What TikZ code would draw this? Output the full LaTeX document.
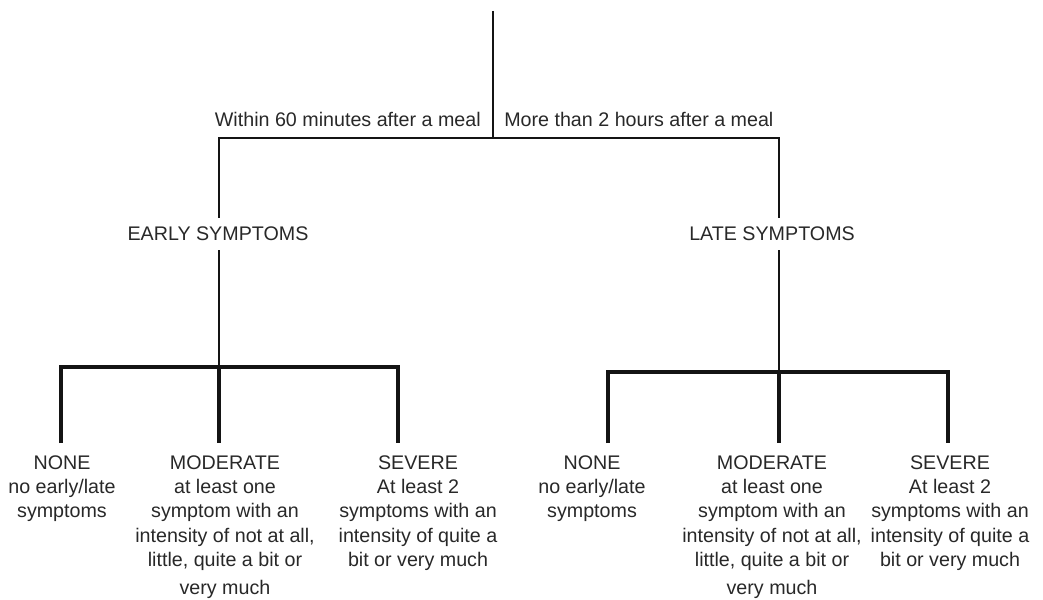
\documentclass[tikz,border=0pt]{standalone}
\usepackage{fontspec}
\setmainfont{Liberation Sans}
\usepackage{tikz}
\usetikzlibrary{positioning}
\definecolor{mytext}{RGB}{40,40,40}
\definecolor{myline}{RGB}{20,20,20}
\tikzset{
  timetext/.style={inner sep=0pt, text=mytext,
    font=\fontsize{14}{17.4}\selectfont},
  grouplabel/.style={inner sep=0pt, text=mytext, minimum height=0.8cm,
    font=\fontsize{14}{17.4}\selectfont},
  leaf/.style={inner sep=0pt, text=mytext, align=center, anchor=north,
    font=\fontsize{14}{17.4}\selectfont},
  stem/.style={line width=1.6pt, color=myline},
  bar/.style={line width=2.4pt, color=myline}
}
\begin{document}
\begin{tikzpicture}
  \useasboundingbox (0,0) rectangle (26.075,14.975);
  % trunk and the two time branches
  \coordinate (top) at (12.325,14.7);
  \coordinate (root) at (12.325,11.525);
  \coordinate (ljoin) at (5.475,11.525);
  \coordinate (rjoin) at (19.475,11.525);
  \node[timetext, anchor=south east, xshift=-0.3cm, yshift=0.275cm] (within) at (root) {Within 60 minutes after a meal};
  \node[timetext, anchor=south west, xshift=0.275cm, yshift=0.275cm] (morethan) at (root) {More than 2 hours after a meal};
  \node[grouplabel] (early) at (5.45,9.125) {EARLY SYMPTOMS};
  \node[grouplabel] (late) at (19.3,9.125) {LATE SYMPTOMS};
  \draw[stem] (top) -- (root);
  \draw[stem] (ljoin |- early.north) -- (ljoin) -- (rjoin) -- (rjoin |- late.north);
  % leaves
  \node[leaf] (lnone) at (1.55,3.6) {NONE\\no early/late\\symptoms};
  \node[leaf] (lmod) at (5.625,3.6) {MODERATE\\at least one\\symptom with an\\intensity of not at all,\\little, quite a bit or\\[2.5pt]very much};
  \node[leaf] (lsev) at (10.45,3.6) {SEVERE\\At least 2\\symptoms with an\\intensity of quite a\\bit or very much};
  \node[leaf] (rnone) at (14.8,3.6) {NONE\\no early/late\\symptoms};
  \node[leaf] (rmod) at (19.3,3.6) {MODERATE\\at least one\\symptom with an\\intensity of not at all,\\little, quite a bit or\\[2.5pt]very much};
  \node[leaf] (rsev) at (23.75,3.6) {SEVERE\\At least 2\\symptoms with an\\intensity of quite a\\bit or very much};
  % severity bars
  \coordinate (lbar) at (5.475,5.8);
  \coordinate (rbar) at (19.475,5.675);
  \foreach \n/\x in {lnonetip/1.525, lmodtip/5.475, lsevtip/9.95, rnonetip/15.2, rmodtip/19.475, rsevtip/23.7}
    \coordinate (\n) at (\x,3.9);
  \draw[stem] (ljoin |- early.south) -- (lbar);
  \draw[stem] (rjoin |- late.south) -- (rbar);
  \draw[bar] (lnonetip) |- (lbar) -| (lsevtip);
  \draw[bar] (lbar) -- (lmodtip);
  \draw[bar] (rnonetip) |- (rbar) -| (rsevtip);
  \draw[bar] (rbar) -- (rmodtip);
\end{tikzpicture}
\end{document}
